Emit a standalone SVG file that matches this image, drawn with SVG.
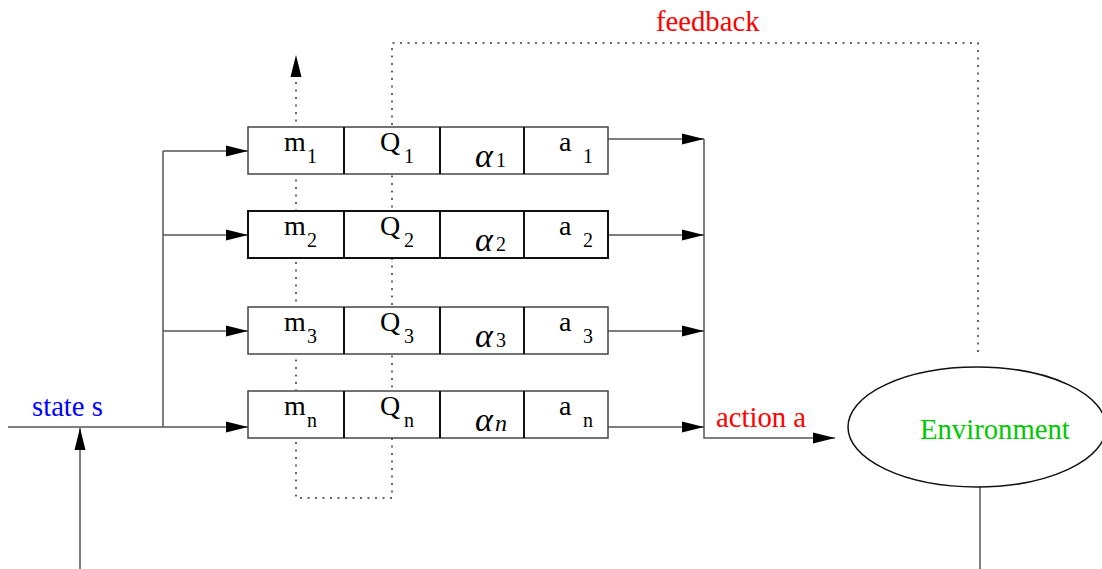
<svg xmlns="http://www.w3.org/2000/svg" width="1102" height="569" viewBox="0 0 1102 569">
  <style>
    .line { fill: none; stroke: #555; stroke-width: 1.5; }
    .dot { fill: none; stroke: #666; stroke-width: 2; stroke-dasharray: 2 5.5; }
    .box { fill: #fff; stroke: #444; stroke-width: 1.5; }
    .box2 { fill: #fff; stroke: #111; stroke-width: 2; }
    .div { stroke: #111; stroke-width: 2; }
    .t { font-family: "Liberation Serif", "Times New Roman", serif; font-size: 28px; fill: #000; }
    .s { font-family: "Liberation Serif", "Times New Roman", serif; font-size: 20px; fill: #000; }
    .al { font-family: "Liberation Serif", "Times New Roman", serif; font-style: italic; font-size: 34px; fill: #000; }
    .sn { font-family: "Liberation Serif", "Times New Roman", serif; font-style: italic; font-size: 24px; fill: #000; }
    .lbl { font-family: "Liberation Serif", "Times New Roman", serif; font-size: 28.7px; }
  </style>
  <defs>
    <marker id="arr" markerUnits="userSpaceOnUse" markerWidth="22" markerHeight="12" refX="22" refY="5.5" orient="auto" overflow="visible">
      <path d="M0,0 L22,5.5 L0,11 Z" fill="#000"/>
    </marker>
  </defs>

  <!-- connectors -->
  <g id="connectors">
    <!-- feedback loop and module selection (dotted) -->
    <path class="dot" d="M978,352 V43 H392 V498 H296 V78"/>
    <path d="M290.5,77 L296,55 L301.5,77 Z" fill="#000"/>
    <!-- state input -->
    <path class="line" d="M8,427 H248" marker-end="url(#arr)"/>
    <path class="line" d="M80,569 V428" marker-end="url(#arr)"/>
    <path class="line" d="M163,427 V151"/>
    <path class="line" d="M163,151 H248" marker-end="url(#arr)"/>
    <path class="line" d="M163,235 H248" marker-end="url(#arr)"/>
    <path class="line" d="M163,331 H248" marker-end="url(#arr)"/>
    <!-- module outputs -->
    <path class="line" d="M608,139 H704" marker-end="url(#arr)"/>
    <path class="line" d="M608,235 H704" marker-end="url(#arr)"/>
    <path class="line" d="M608,331 H704" marker-end="url(#arr)"/>
    <path class="line" d="M608,427 H704" marker-end="url(#arr)"/>
    <path class="line" d="M704,139 V438 H835" marker-end="url(#arr)"/>
    <!-- environment output -->
    <path class="line" d="M980,487 V569"/>
  </g>

  <!-- module 1 -->
  <g id="module1">
    <rect class="box" x="248" y="127" width="360" height="47"/>
    <line class="div" x1="344" y1="127" x2="344" y2="174"/>
    <line class="div" x1="440" y1="127" x2="440" y2="174"/>
    <line class="div" x1="524" y1="127" x2="524" y2="174"/>
    <text class="t" x="284" y="151">m</text><text class="s" x="307" y="163">1</text>
    <text class="t" x="380" y="151">Q</text><text class="s" x="404" y="163">1</text>
    <text class="al" x="475" y="167">α</text><text class="s" x="496" y="167">1</text>
    <text class="t" x="559" y="151">a</text><text class="s" x="583" y="163">1</text>
  </g>

  <!-- module 2 -->
  <g id="module2">
    <rect class="box2" x="248" y="211" width="360" height="47"/>
    <line class="div" x1="344" y1="211" x2="344" y2="258"/>
    <line class="div" x1="440" y1="211" x2="440" y2="258"/>
    <line class="div" x1="524" y1="211" x2="524" y2="258"/>
    <text class="t" x="284" y="235">m</text><text class="s" x="307" y="247">2</text>
    <text class="t" x="380" y="235">Q</text><text class="s" x="404" y="247">2</text>
    <text class="al" x="475" y="251">α</text><text class="s" x="496" y="251">2</text>
    <text class="t" x="559" y="235">a</text><text class="s" x="583" y="247">2</text>
  </g>

  <!-- module 3 -->
  <g id="module3">
    <rect class="box" x="248" y="307" width="360" height="47"/>
    <line class="div" x1="344" y1="307" x2="344" y2="354"/>
    <line class="div" x1="440" y1="307" x2="440" y2="354"/>
    <line class="div" x1="524" y1="307" x2="524" y2="354"/>
    <text class="t" x="284" y="331">m</text><text class="s" x="307" y="343">3</text>
    <text class="t" x="380" y="331">Q</text><text class="s" x="404" y="343">3</text>
    <text class="al" x="475" y="347">α</text><text class="s" x="496" y="347">3</text>
    <text class="t" x="559" y="331">a</text><text class="s" x="583" y="343">3</text>
  </g>

  <!-- module n -->
  <g id="modulen">
    <rect class="box" x="248" y="391" width="360" height="47"/>
    <line class="div" x1="344" y1="391" x2="344" y2="438"/>
    <line class="div" x1="440" y1="391" x2="440" y2="438"/>
    <line class="div" x1="524" y1="391" x2="524" y2="438"/>
    <text class="t" x="284" y="415">m</text><text class="s" x="307" y="427">n</text>
    <text class="t" x="380" y="415">Q</text><text class="s" x="404" y="427">n</text>
    <text class="al" x="475" y="431">α</text><text class="sn" x="495" y="431">n</text>
    <text class="t" x="559" y="415">a</text><text class="s" x="583" y="427">n</text>
  </g>

  <!-- environment -->
  <g id="environment">
    <ellipse cx="977" cy="427" rx="129" ry="60" fill="#fff" stroke="#111" stroke-width="1.5"/>
    <text class="lbl" x="920" y="439" fill="#00c800">Environment</text>
  </g>

  <!-- labels -->
  <g id="labels">
    <text class="lbl" x="656" y="31" fill="#ff0000">feedback</text>
    <text class="lbl" x="32" y="416" fill="#0000ff">state s</text>
    <text class="lbl" x="716" y="427" fill="#ff0000">action a</text>
  </g>
</svg>
